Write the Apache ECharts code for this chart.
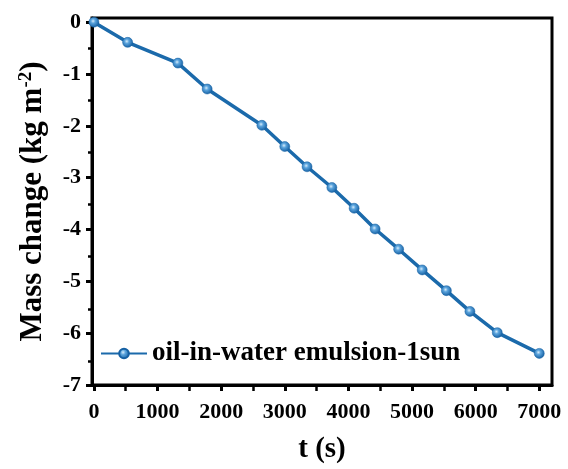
<!DOCTYPE html>
<html>
<head>
<meta charset="utf-8">
<script src="https://cdn.jsdelivr.net/npm/echarts@6/dist/echarts.min.js"></script>
<style>
  html, body { margin: 0; padding: 0; background: #fff; }
  #chart { width: 568px; height: 469px; }
</style>
</head>
<body>
<div id="chart"></div>
<script>
// Evaporation test: mass change over time
const seriesName = 'oil-in-water emulsion-1sun';
const timeSec = [0, 530, 1320, 1780, 2640, 3000, 3350, 3740, 4090, 4420, 4790, 5160, 5540, 5910, 6340, 7000];
const massChange = [0, -0.39, -0.79, -1.29, -1.99, -2.40, -2.79, -3.19, -3.59, -3.99, -4.38, -4.78, -5.18, -5.58, -5.99, -6.39];

const xMajorTicks = [0, 1000, 2000, 3000, 4000, 5000, 6000, 7000];
const xMinorTicks = [500, 1500, 2500, 3500, 4500, 5500, 6500];
const yMajorTicks = [-7, -6, -5, -4, -3, -2, -1, 0];
const yMinorTicks = [-6.5, -5.5, -4.5, -3.5, -2.5, -1.5, -0.5];

const X_MIN = -30, X_MAX = 7200;
const Y_MIN = -7, Y_MAX = 0.08;

const FONT = '"Liberation Serif", "Times New Roman", serif';
const LINE_BLUE = '#1b6aab';

const markerFill = {
  type: 'radial', x: 0.42, y: 0.4, r: 0.6,
  colorStops: [
    { offset: 0, color: '#d6ecfb' },
    { offset: 0.35, color: '#5aa3dc' },
    { offset: 1, color: '#1560a3' }
  ]
};

const chart = echarts.init(document.getElementById('chart'), null, { renderer: 'canvas' });

const gridRect = { left: 92, top: 18, right: 16, bottom: 82 };

const baseX = {
  type: 'value', min: X_MIN, max: X_MAX, position: 'bottom',
  splitLine: { show: false }
};
const baseY = {
  type: 'value', min: Y_MIN, max: Y_MAX, position: 'left',
  splitLine: { show: false }
};

chart.setOption({
  animation: false,
  backgroundColor: '#fff',
  grid: [
    Object.assign({}, gridRect, {
      show: true, borderColor: '#000', borderWidth: 3, backgroundColor: 'transparent'
    }),
    // second grid on the same rectangle carries the minor ticks
    Object.assign({}, gridRect, { show: false })
  ],
  legend: {
    data: [seriesName],
    left: 100, top: 340, padding: 0,
    itemWidth: 46, itemHeight: 12, itemGap: 5,
    textStyle: { fontFamily: FONT, fontWeight: 'bold', fontSize: 27, color: '#000' }
  },
  xAxis: [
    Object.assign({}, baseX, {
      gridIndex: 0,
      name: 't (s)',
      nameLocation: 'middle',
      nameGap: 50,
      nameTextStyle: { fontFamily: FONT, fontWeight: 'bold', fontSize: 29, color: '#000' },
      axisLine: { show: true, onZero: false, lineStyle: { color: '#000', width: 3 } },
      axisTick: { show: true, customValues: xMajorTicks, length: 6, lineStyle: { color: '#000', width: 3 } },
      axisLabel: {
        customValues: xMajorTicks, margin: 16,
        formatter: v => String(v),
        fontFamily: FONT, fontWeight: 'bold', fontSize: 22, color: '#000'
      }
    }),
    Object.assign({}, baseX, {
      gridIndex: 1,
      axisLine: { show: false, onZero: false },
      axisTick: { show: true, customValues: xMinorTicks, length: 4, lineStyle: { color: '#000', width: 2.5 } },
      axisLabel: { show: false }
    })
  ],
  yAxis: [
    Object.assign({}, baseY, {
      gridIndex: 0,
      name: 'Mass change (kg m{sup|-2})',
      nameLocation: 'middle',
      nameGap: 43,
      nameRotate: 90,
      nameTextStyle: {
        fontFamily: FONT, fontWeight: 'bold', fontSize: 31, color: '#000', lineHeight: 32,
        rich: {
          sup: { fontFamily: FONT, fontWeight: 'bold', fontSize: 19, lineHeight: 19, verticalAlign: 'top', color: '#000' }
        }
      },
      axisLine: { show: true, onZero: false, lineStyle: { color: '#000', width: 3 } },
      axisTick: { show: true, customValues: yMajorTicks, length: 6, lineStyle: { color: '#000', width: 3 } },
      axisLabel: {
        customValues: yMajorTicks, margin: 11,
        fontFamily: FONT, fontWeight: 'bold', fontSize: 22, color: '#000'
      }
    }),
    Object.assign({}, baseY, {
      gridIndex: 1,
      axisLine: { show: false, onZero: false },
      axisTick: { show: true, customValues: yMinorTicks, length: 4, lineStyle: { color: '#000', width: 2.5 } },
      axisLabel: { show: false }
    })
  ],
  series: [{
    name: seriesName,
    type: 'line',
    xAxisIndex: 0,
    yAxisIndex: 0,
    data: timeSec.map((t, i) => [t, massChange[i]]),
    symbol: 'circle',
    symbolSize: 10,
    lineStyle: { color: LINE_BLUE, width: 3.5 },
    itemStyle: { color: markerFill, borderColor: '#1560a3', borderWidth: 0.5 },
    z: 3
  }]
});
</script>
</body>
</html>
